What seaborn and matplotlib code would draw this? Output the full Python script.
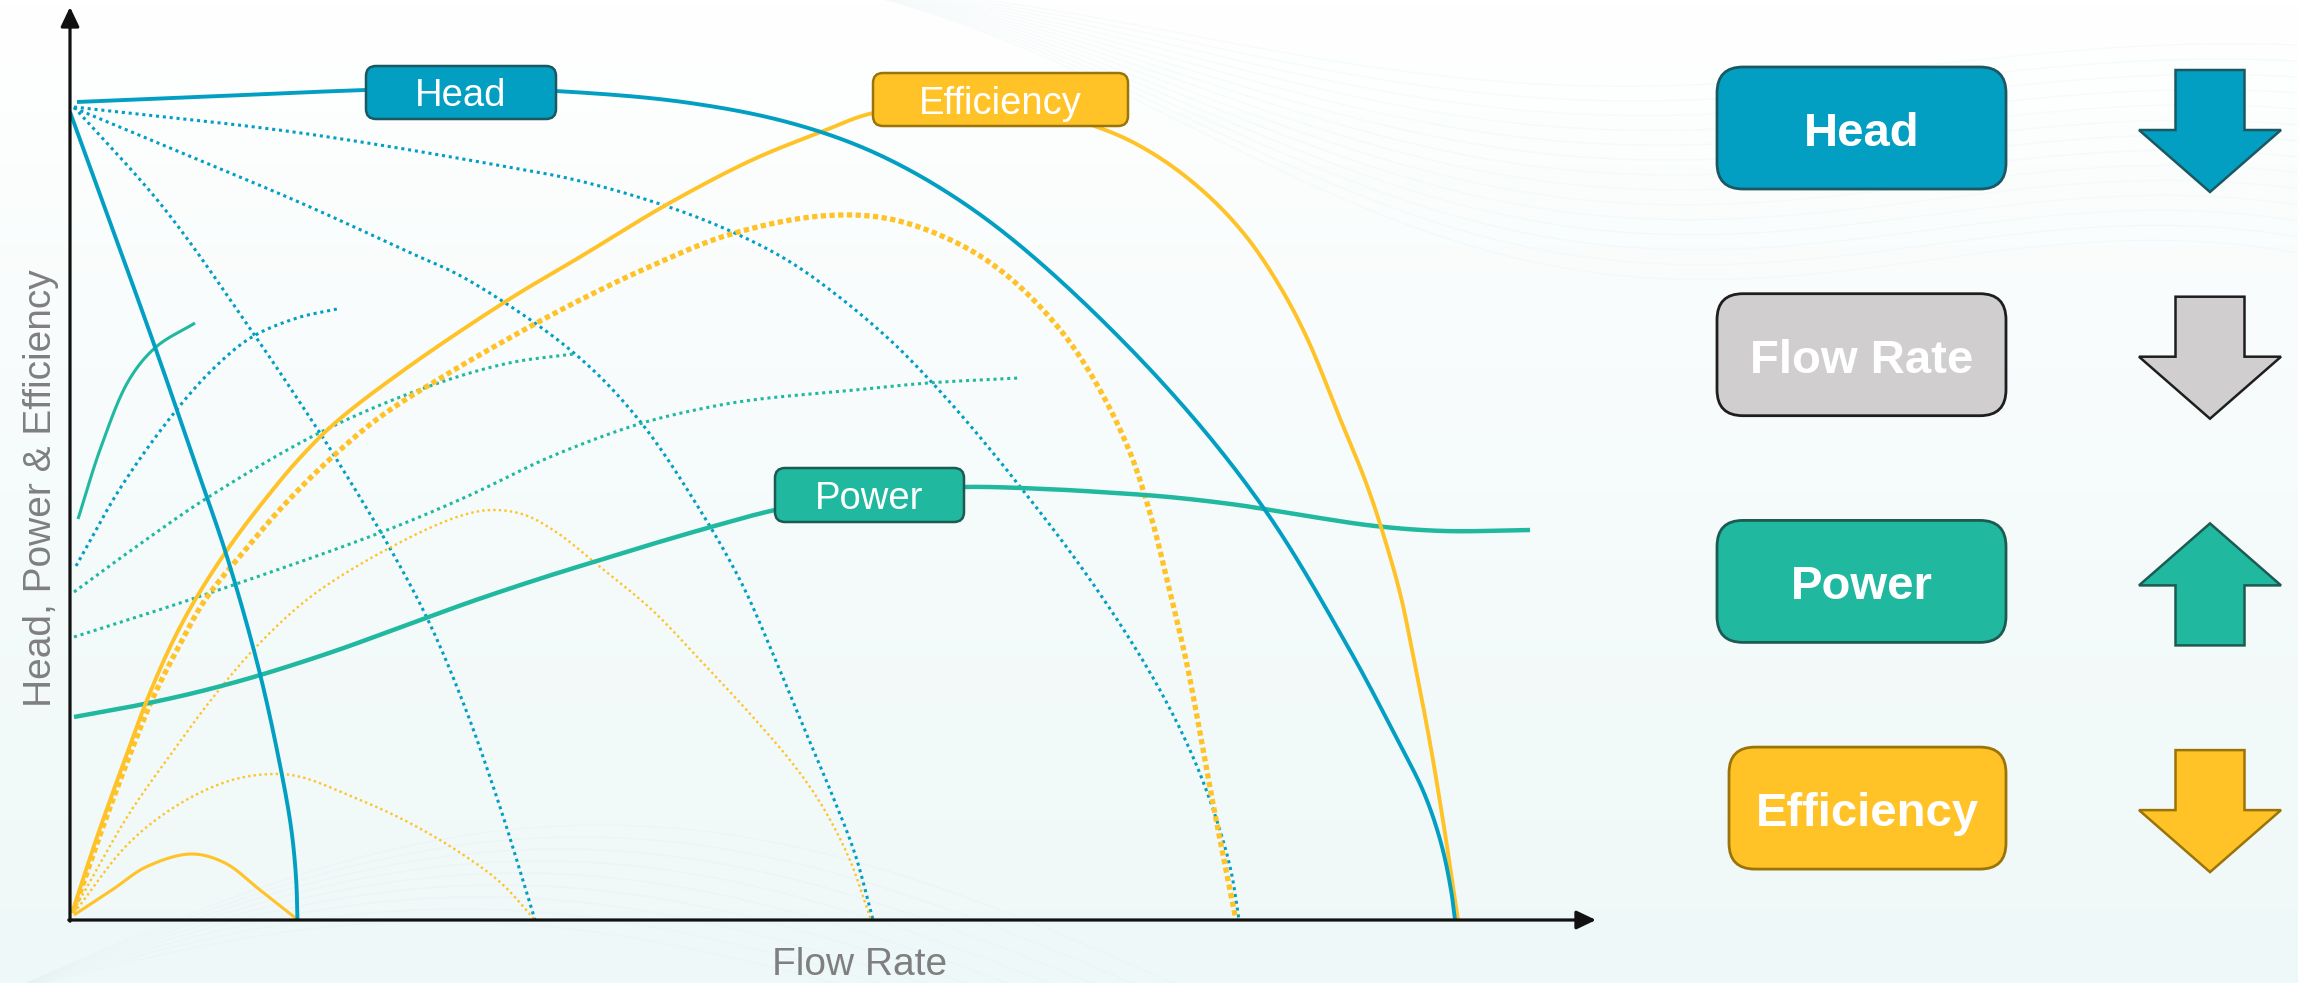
import numpy as np
import matplotlib
matplotlib.use("Agg")
import matplotlib.pyplot as plt
from matplotlib import font_manager
from matplotlib.patches import FancyBboxPatch, Polygon
from matplotlib.colors import LinearSegmentedColormap
import seaborn as sns

# ---------------- pump characteristic curves (flow, value) ----------------
# Head: main curve, steep small-pump curve, dotted family
head_q = [0.7, 12.8, 29.6, 39.1, 48.6, 61.3, 71.7, 80.3, 88.9, 97.5, 109.9,
          119.5, 127.8, 132.6, 135.4, 137.1, 138.1, 138.5]
head_h = [81.8, 82.3, 83.0, 83.2, 82.9, 81.8, 79.8, 76.8, 72.0, 65.3, 53.0,
          41.0, 27.3, 18.3, 12.7, 7.7, 3.0, 0.0]

head_steep_q = [0.0, 8.5, 12.4, 15.8, 18.9, 20.9, 22.1, 22.6, 22.75]
head_steep_h = [80.8, 57.3, 46.0, 36.0, 25.0, 16.0, 9.3, 4.3, 0.0]

head_dot_a_q = [0.4, 9.3, 17.9, 24.8, 26.7, 31.7, 35.8, 39.6, 43.1, 45.1, 46.5]
head_dot_a_h = [81.3, 71.3, 59.3, 49.0, 46.0, 37.7, 30.0, 21.0, 11.0, 4.6, 0.0]

head_dot_b_q = [0.4, 9.3, 23.1, 33.4, 39.8, 50.4, 56.9, 63.0, 67.2, 70.3, 73.4,
                76.1, 78.5, 80.3]
head_dot_b_h = [81.2, 77.5, 71.7, 67.0, 64.0, 56.7, 50.0, 41.0, 33.6, 26.6, 19.2,
                12.8, 6.6, 0.0]

head_dot_c_q = [0.4, 23.1, 43.8, 51.0, 59.6, 65.8, 71.7, 76.8, 82.0, 85.4, 89.2,
                94.0, 100.9, 106.4, 109.9, 112.6, 114.7, 116.1, 116.9]
head_dot_c_h = [81.3, 78.7, 75.3, 73.9, 71.4, 69.0, 66.0, 62.4, 58.0, 54.6, 50.4,
                44.6, 35.6, 27.4, 21.3, 15.6, 9.9, 4.9, 0.0]

head_dot_short_q = [0.6, 5.1, 10.4, 14.5, 18.2, 22.7, 26.7]
head_dot_short_h = [35.4, 43.3, 50.7, 55.3, 58.3, 60.2, 61.1]

# Efficiency: main curve and reduced-size curves
eff_q = [0.2, 2.6, 5.1, 7.7, 10.2, 12.8, 16.2, 19.7, 22.8, 26.5, 33.4, 43.8, 51.0,
         59.6, 68.2, 75.1, 80.3, 92.0, 103.0, 108.2, 113.3, 117.5, 120.9, 123.7,
         127.1, 129.5, 131.1, 133.0, 134.4, 136.0, 137.4, 138.8]
eff_e = [0.7, 8.0, 15.0, 22.0, 27.7, 32.5, 37.7, 42.3, 46.0, 49.7, 55.0, 62.0, 66.3,
         71.5, 76.0, 78.8, 80.7, 82.0, 79.2, 76.7, 72.9, 68.5, 63.5, 58.2,
         49.9, 44.0, 39.3, 32.7, 26.0, 17.7, 9.3, 0.0]

eff_dot_thick_q = [0.4, 3.0, 5.6, 8.2, 10.8, 13.5, 17.6, 21.4, 25.9, 31.0, 37.9,
                   47.2, 53.0, 57.9, 65.8, 75.1, 82.0, 88.9, 94.0, 99.2, 103.0,
                   106.1, 108.2, 109.9, 111.6, 112.9, 114.1, 115.4, 116.6]
eff_dot_thick_e = [1.0, 8.5, 15.5, 22.0, 27.2, 32.0, 37.1, 41.5, 46.0, 50.3, 54.7,
                   60.0, 63.0, 65.3, 68.5, 70.4, 70.1, 67.6, 64.2, 58.8, 53.0,
                   46.5, 40.0, 33.2, 26.0, 19.3, 12.7, 6.0, 0.0]

eff_dot_mid_q = [0.4, 5.9, 10.4, 14.1, 18.6, 24.3, 32.5, 39.0, 42.2, 45.5, 48.9,
                 52.4, 58.2, 63.1, 68.2, 72.3, 75.1, 77.9, 80.1]
eff_dot_mid_e = [1.0, 10.6, 17.0, 22.0, 27.3, 32.5, 37.5, 40.4, 41.0, 40.5, 38.6,
                 35.8, 31.0, 25.9, 20.4, 15.6, 11.6, 6.2, 0.0]

eff_dot_small_q = [0.4, 5.9, 11.1, 16.2, 20.3, 23.1, 28.3, 33.4, 38.6, 43.1, 46.5]
eff_dot_small_e = [0.7, 7.7, 11.7, 14.0, 14.6, 14.3, 12.3, 10.0, 7.0, 3.7, 0.0]

eff_small_q = [0.4, 4.2, 7.6, 12.1, 15.5, 19.0, 22.8]
eff_small_e = [0.5, 3.0, 5.3, 6.6, 5.7, 3.0, 0.0]

# Power: main curve and reduced-size curves
power_q = [0.4, 5.9, 11.1, 15.5, 19.7, 26.5, 33.4, 40.3, 47.2, 53.0, 57.9, 64.8,
           70.5, 80.0, 89.4, 97.5, 103.0, 109.9, 116.8, 123.7, 130.5, 137.4, 146.0]
power_p = [20.3, 21.3, 22.4, 23.5, 24.7, 26.9, 29.4, 31.9, 34.2, 36.0, 37.5, 39.5,
           41.0, 42.7, 43.3, 43.1, 42.8, 42.3, 41.5, 40.4, 39.4, 38.9, 39.0]

power_small_q = [0.8, 3.1, 5.9, 8.6, 12.5]
power_small_p = [40.1, 47.3, 54.0, 57.3, 59.7]

power_dot_a_q = [0.4, 7.0, 13.7, 25.1, 35.7, 43.9, 50.4]
power_dot_a_p = [32.8, 37.6, 42.2, 48.8, 53.3, 55.7, 56.6]

power_dot_b_q = [0.4, 12.5, 31.2, 39.8, 48.0, 56.9, 63.0, 68.2, 78.5, 85.8, 94.9]
power_dot_b_p = [28.3, 32.2, 38.8, 42.4, 46.3, 49.6, 51.1, 52.0, 53.0, 53.7, 54.2]

# Trend summary on the right
trend_names = ["Head", "Flow Rate", "Power", "Efficiency"]
trend_dirs = ["down", "down", "up", "down"]

# ---------------- styling ----------------
BLUE = "#029FC3"
TEAL = "#21B8A0"
YELLOW = "#FFC328"
GREY_BOX = "#D0CECF"
EDGE = {"Head": "#1B5862", "Flow Rate": "#1E1E1E", "Power": "#1C5B51",
        "Efficiency": "#9A7408"}
FILL = {"Head": BLUE, "Flow Rate": GREY_BOX, "Power": TEAL, "Efficiency": YELLOW}

W, H = 2298, 983
sns.set_theme(style="white")
plt.rcParams["font.family"] = ["Liberation Sans", "DejaVu Sans"]

installed = {f.name for f in font_manager.fontManager.ttflist}
if "Liberation Sans Narrow" in installed:
    axis_font, axis_size = ["Liberation Sans Narrow", "Liberation Sans"], 32
else:
    axis_font, axis_size = ["Liberation Sans", "DejaVu Sans"], 28


def smooth(x, y, n=24):
    """Centripetal Catmull-Rom path through the given points (for rendering)."""
    P = np.column_stack([x, y]).astype(float)
    P = np.vstack([2 * P[0] - P[1], P, 2 * P[-1] - P[-2]])
    out = []
    for i in range(1, len(P) - 2):
        p0, p1, p2, p3 = P[i - 1], P[i], P[i + 1], P[i + 2]
        t0 = 0.0
        t1 = t0 + max(np.linalg.norm(p1 - p0), 1e-6) ** 0.5
        t2 = t1 + max(np.linalg.norm(p2 - p1), 1e-6) ** 0.5
        t3 = t2 + max(np.linalg.norm(p3 - p2), 1e-6) ** 0.5
        t = np.linspace(t1, t2, n, endpoint=False)[:, None]
        a1 = (t1 - t) / (t1 - t0) * p0 + (t - t0) / (t1 - t0) * p1
        a2 = (t2 - t) / (t2 - t1) * p1 + (t - t1) / (t2 - t1) * p2
        a3 = (t3 - t) / (t3 - t2) * p2 + (t - t2) / (t3 - t2) * p3
        b1 = (t2 - t) / (t2 - t0) * a1 + (t - t0) / (t2 - t0) * a2
        b2 = (t3 - t) / (t3 - t1) * a2 + (t - t1) / (t3 - t1) * a3
        c = (t2 - t) / (t2 - t1) * b1 + (t - t1) / (t2 - t1) * b2
        out.append(c)
    out.append(P[-2][None, :])
    pts = np.vstack(out)
    return pts[:, 0], pts[:, 1]


fig = plt.figure(figsize=(W / 100, H / 100), dpi=100)

# ---------------- soft background ----------------
bg = fig.add_axes([0, 0, 1, 1], zorder=0)
bg.set_xlim(0, W)
bg.set_ylim(H, 0)
bg.axis("off")
grad = np.linspace(0, 1, 256)[:, None]
bg_cmap = LinearSegmentedColormap.from_list("bg", ["#FFFFFF", "#F6FBFB", "#EFF8F8"])
bg.imshow(grad, extent=[0, W, H, 0], cmap=bg_cmap, aspect="auto", zorder=0)
# faint ribbon texture along the top
xs = np.linspace(820, W, 400)
tt = (xs - 820) / (W - 820)
for k in range(14):
    ys = -15 + (60 + 16 * k) * tt + (70 + 6 * k) * np.sin(np.pi * tt) ** 2
    bg.plot(xs, ys, color="#9CD2D8", lw=1.0, alpha=0.07, zorder=1)
# faint arcs near the bottom
xb = np.linspace(0, 1200, 300)
for k in range(9):
    yb = 995 - (170 - 12 * k) * np.sin(np.pi * np.clip(xb / (1200 - 40 * k), 0, 1))
    bg.plot(xb, yb, color="#A9D3D6", lw=1.0, alpha=0.06, zorder=1)

# ---------------- chart ----------------
ax = fig.add_axes([70 / W, (H - 920) / H, 1526 / W, 913 / H], zorder=2)
ax.set_xlim(0, 152.6)
ax.set_ylim(0, 91.3)
ax.patch.set_alpha(0)
ax.axis("off")

THIN_DOT = (0, (1.0, 1.25))
FINE_DOT = (0, (1.0, 1.35))
THICK_DOT = (0, (1.0, 0.65))


def draw(q, v, color, lw, ls="-", z=3):
    xq, yv = smooth(q, v)
    sns.lineplot(x=xq, y=yv, sort=False, estimator=None, ax=ax, color=color,
                 lw=lw, linestyle=ls, dash_capstyle="butt",
                 solid_capstyle="butt", zorder=z, legend=False)


# dotted families
draw(head_dot_a_q, head_dot_a_h, BLUE, 2.2, THIN_DOT)
draw(head_dot_b_q, head_dot_b_h, BLUE, 2.2, THIN_DOT)
draw(head_dot_c_q, head_dot_c_h, BLUE, 2.2, THIN_DOT)
draw(head_dot_short_q, head_dot_short_h, BLUE, 2.2, THIN_DOT)
draw(power_dot_a_q, power_dot_a_p, TEAL, 2.2, THIN_DOT)
draw(power_dot_b_q, power_dot_b_p, TEAL, 2.2, THIN_DOT)
draw(eff_dot_mid_q, eff_dot_mid_e, YELLOW, 1.7, FINE_DOT)
draw(eff_dot_small_q, eff_dot_small_e, YELLOW, 1.7, FINE_DOT)
draw(eff_dot_thick_q, eff_dot_thick_e, YELLOW, 3.8, THICK_DOT)

# solid curves
draw(eff_small_q, eff_small_e, YELLOW, 2.2)
draw(power_small_q, power_small_p, TEAL, 2.2)
draw(power_q, power_p, TEAL, 3.2, z=4)
draw(eff_q, eff_e, YELLOW, 2.8, z=4)
draw(head_steep_q, head_steep_h, BLUE, 2.8, z=4)
draw(head_q, head_h, BLUE, 2.8, z=4)

# axes with arrow heads
axis_arrow = dict(arrowstyle="-|>,head_length=0.42,head_width=0.2",
                  color="#111111", lw=2.3, mutation_scale=28,
                  shrinkA=0, shrinkB=0)
ax.annotate("", xy=(152.6, 0), xytext=(-0.12, 0), arrowprops=axis_arrow,
            annotation_clip=False, zorder=6)
ax.annotate("", xy=(0, 91.3), xytext=(0, -0.12), arrowprops=axis_arrow,
            annotation_clip=False, zorder=6)

# curve tags: (text, left, bottom, width, height)
tags = [("Head", 29.6, 80.1, 19.0, 5.3),
        ("Efficiency", 80.3, 79.4, 25.5, 5.3),
        ("Power", 70.5, 39.8, 18.9, 5.4)]
for name, x0, y0, w, h in tags:
    ax.add_patch(FancyBboxPatch((x0, y0), w, h,
                                boxstyle="round,pad=0,rounding_size=1.0",
                                fc=FILL[name], ec=EDGE[name], lw=1.8, zorder=8))
    ax.text(x0 + w / 2, y0 + h / 2 - 1.4, name, ha="center", va="baseline",
            color="white", fontsize=27.5, zorder=9,
            family=["Liberation Sans", "DejaVu Sans"])

# axis titles
fig.text(51 / W, 1 - 488 / H, "Head, Power & Efficiency", rotation=90,
         rotation_mode="anchor", ha="center", va="baseline", color="#7F7F7F",
         fontsize=axis_size, family=axis_font)
fig.text(860 / W, 1 - 975 / H, "Flow Rate", ha="center", va="baseline",
         color="#7F7F7F", fontsize=axis_size, family=axis_font)

# ---------------- trend panel ----------------
pn = fig.add_axes([0, 0, 1, 1], zorder=5)
pn.set_xlim(0, W)
pn.set_ylim(H, 0)
pn.patch.set_alpha(0)
pn.axis("off")

row0, row_gap = 128, 226.7
box_right, box_w = 2006, 289
arrow_cx = 2210
for i, (name, d) in enumerate(zip(trend_names, trend_dirs)):
    cy = row0 + i * row_gap
    bw = box_w if name != "Efficiency" else box_w - 12
    pn.add_patch(FancyBboxPatch((box_right - bw, cy - 61), bw, 122,
                                boxstyle="round,pad=0,rounding_size=26",
                                fc=FILL[name], ec=EDGE[name], lw=2.0, zorder=2))
    pn.text(box_right - bw / 2, cy + 18, name, ha="center", va="baseline",
            color="white", fontsize=34, fontweight="bold", zorder=3,
            family=["Liberation Sans", "DejaVu Sans"])
    m = cy + 3
    half_shaft, half_head, half_len, head_len = 34.5, 71, 61, 62
    if d == "down":
        top, tip = m - half_len, m + half_len
        sh = tip - head_len
    else:
        top, tip = m + half_len, m - half_len
        sh = tip + head_len
    verts = [(arrow_cx - half_shaft, top), (arrow_cx + half_shaft, top),
             (arrow_cx + half_shaft, sh), (arrow_cx + half_head, sh),
             (arrow_cx, tip), (arrow_cx - half_head, sh),
             (arrow_cx - half_shaft, sh)]
    pn.add_patch(Polygon(verts, closed=True, fc=FILL[name], ec=EDGE[name],
                         lw=1.8, joinstyle="miter", zorder=2))

fig.savefig("out.png", dpi=100)
